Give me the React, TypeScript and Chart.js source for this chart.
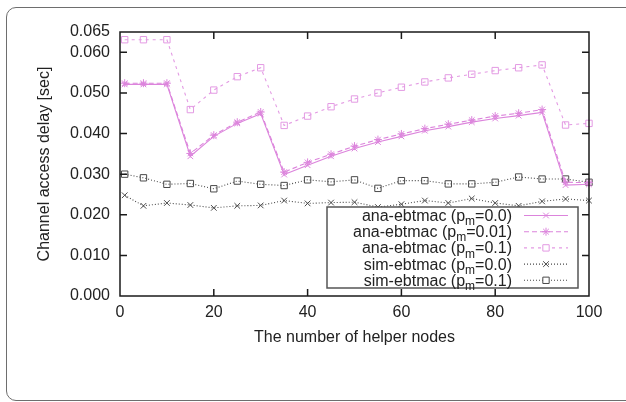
import React, { useEffect, useRef } from "react";
import { Chart, registerables } from "chart.js";

Chart.register(...registerables);

// ---------------- data ----------------
const helperNodes = [1, 5, 10, 15, 20, 25, 30, 35, 40, 45, 50, 55, 60, 65, 70, 75, 80, 85, 90, 95, 100];

const anaPm00 = [0.0521, 0.0521, 0.0521, 0.0344, 0.0393, 0.0425, 0.0449, 0.0299, 0.0322, 0.0344, 0.0363, 0.0379, 0.0393, 0.0407, 0.0417, 0.0428, 0.0437, 0.0444, 0.0452, 0.0273, 0.0275];
const anaPm001 = [0.0524, 0.0524, 0.0524, 0.0351, 0.0396, 0.0428, 0.0453, 0.0305, 0.0329, 0.0349, 0.0369, 0.0385, 0.0399, 0.0412, 0.0423, 0.0433, 0.0443, 0.045, 0.0459, 0.028, 0.0279];
const anaPm01 = [0.0631, 0.0631, 0.0631, 0.0459, 0.0507, 0.054, 0.0562, 0.042, 0.0443, 0.0466, 0.0485, 0.05, 0.0514, 0.0527, 0.0537, 0.0546, 0.0555, 0.0562, 0.0569, 0.0421, 0.0425];
const simPm00 = [0.0248, 0.0222, 0.0229, 0.0224, 0.0217, 0.0222, 0.0223, 0.0235, 0.0228, 0.023, 0.0231, 0.0219, 0.0226, 0.0235, 0.0229, 0.024, 0.0229, 0.0222, 0.0233, 0.0239, 0.0235];
const simPm01 = [0.03, 0.0291, 0.0275, 0.0277, 0.0264, 0.0283, 0.0275, 0.0272, 0.0286, 0.0281, 0.0286, 0.0265, 0.0284, 0.0284, 0.0276, 0.0276, 0.028, 0.0293, 0.0288, 0.0288, 0.028];

const seriesNames = ["ana-ebtmac", "ana-ebtmac", "ana-ebtmac", "sim-ebtmac", "sim-ebtmac"];
const pmValues = ["0.0", "0.01", "0.1", "0.0", "0.1"];

const yTickValues = [0, 0.01, 0.02, 0.03, 0.04, 0.05, 0.06, 0.065];
const xTickValues = [0, 20, 40, 60, 80, 100];

const xTitle = "The number of helper nodes";
const yTitle = "Channel access delay [sec]";

// ---------------- styles ----------------
const FONT = '"Liberation Sans", Arial, Helvetica, sans-serif';
const PINK = "#dc84dc";
const PINK_LIGHT = "#e39ae3";
const GRAY = "#4a4a4a";

const toPoints = (ys: number[]) => ys.map((y, i) => ({ x: helperNodes[i], y }));

function drawMarker(ctx: CanvasRenderingContext2D, style: string, x: number, y: number, r: number, color: string) {
  ctx.save();
  ctx.setLineDash([]);
  ctx.strokeStyle = color;
  ctx.lineWidth = 1;
  ctx.beginPath();
  const d = r * Math.SQRT1_2;
  if (style === "crossRot" || style === "star") {
    ctx.moveTo(x - d, y - d);
    ctx.lineTo(x + d, y + d);
    ctx.moveTo(x - d, y + d);
    ctx.lineTo(x + d, y - d);
  }
  if (style === "star") {
    ctx.moveTo(x - r, y);
    ctx.lineTo(x + r, y);
    ctx.moveTo(x, y - r);
    ctx.lineTo(x, y + r);
  }
  if (style === "rect") {
    ctx.fillStyle = "#fff";
    ctx.rect(x - d, y - d, 2 * d, 2 * d);
    ctx.fill();
  }
  ctx.stroke();
  ctx.restore();
}

const frameAndTicks = {
  id: "frameAndTicks",
  afterDraw(chart: any) {
    const { ctx, chartArea: a, scales } = chart;
    ctx.save();
    ctx.strokeStyle = "#1a1a1a";
    ctx.lineWidth = 1.5;
    ctx.setLineDash([]);
    const tl = 7;
    ctx.beginPath();
    scales.x.ticks.forEach((t: any) => {
      if (t.value <= 0 || t.value >= 100) return;
      const px = scales.x.getPixelForValue(t.value);
      ctx.moveTo(px, a.bottom);
      ctx.lineTo(px, a.bottom - tl);
      ctx.moveTo(px, a.top);
      ctx.lineTo(px, a.top + tl);
    });
    scales.y.ticks.forEach((t: any) => {
      if (t.value <= 0 || t.value >= 0.065) return;
      const py = scales.y.getPixelForValue(t.value);
      ctx.moveTo(a.left, py);
      ctx.lineTo(a.left + tl, py);
      ctx.moveTo(a.right, py);
      ctx.lineTo(a.right - tl, py);
    });
    ctx.stroke();
    ctx.strokeRect(a.left, a.top, a.right - a.left, a.bottom - a.top);
    ctx.restore();
  },
};

const gnuLegend = {
  id: "gnuLegend",
  afterDraw(chart: any) {
    const { ctx, chartArea: a } = chart;
    const boxR = a.right - 11;
    const boxB = a.bottom - 8;
    const boxW = 251;
    const boxH = 81;
    const boxL = boxR - boxW;
    const boxT = boxB - boxH;
    const rowH = 16.2;
    ctx.save();
    ctx.fillStyle = "#fff";
    ctx.fillRect(boxL, boxT, boxW, boxH);
    ctx.strokeStyle = "#555";
    ctx.lineWidth = 1.5;
    ctx.setLineDash([]);
    ctx.strokeRect(boxL, boxT, boxW, boxH);

    chart.data.datasets.forEach((ds: any, i: number) => {
      const cy = boxT + 8.5 + i * rowH;
      const main = `${seriesNames[i]} (p`;
      const sub = "m";
      const tail = `=${pmValues[i]})`;
      ctx.font = `16px ${FONT}`;
      const w1 = ctx.measureText(main).width;
      const w3 = ctx.measureText(tail).width;
      ctx.font = `12px ${FONT}`;
      const w2 = ctx.measureText(sub).width;
      const textRight = boxR - 66;
      const x0 = textRight - (w1 + w2 + w3);
      const base = cy + 5.5;
      ctx.fillStyle = "#222";
      ctx.textBaseline = "alphabetic";
      ctx.textAlign = "left";
      ctx.font = `16px ${FONT}`;
      ctx.fillText(main, x0, base);
      ctx.fillText(tail, x0 + w1 + w2, base);
      ctx.font = `12px ${FONT}`;
      ctx.fillText(sub, x0 + w1, base + 4.2);

      ctx.strokeStyle = ds.borderColor;
      ctx.lineWidth = ds.borderWidth;
      ctx.setLineDash(ds.borderDash || []);
      ctx.beginPath();
      ctx.moveTo(boxR - 54, cy);
      ctx.lineTo(boxR - 10, cy);
      ctx.stroke();
      drawMarker(ctx, ds.pointStyle, boxR - 32, cy, ds.pointRadius, ds.pointBorderColor);
    });
    ctx.restore();
  },
};

export default function App() {
  const ref = useRef<HTMLCanvasElement>(null);

  useEffect(() => {
    const mk = (label: string, data: number[], color: string, dash: number[], style: string, r: number, width: number) => ({
      label,
      data: toPoints(data),
      borderColor: color,
      borderWidth: width,
      borderDash: dash,
      pointStyle: style,
      pointRadius: r,
      pointBorderColor: color,
      pointBorderWidth: 1,
      pointBackgroundColor: style === "rect" ? "rgba(255,255,255,0)" : color,
      fill: false,
      tension: 0,
      clip: 10,
    });

    const datasets = [
      mk(`${seriesNames[0]} (pm=${pmValues[0]})`, anaPm00, PINK, [], "crossRot", 4, 1.1),
      mk(`${seriesNames[1]} (pm=${pmValues[1]})`, anaPm001, PINK, [5, 3], "star", 4, 1.1),
      mk(`${seriesNames[2]} (pm=${pmValues[2]})`, anaPm01, PINK_LIGHT, [3, 4], "rect", 4.5, 1.1),
      mk(`${seriesNames[3]} (pm=${pmValues[3]})`, simPm00, GRAY, [1, 2], "crossRot", 4, 1.1),
      mk(`${seriesNames[4]} (pm=${pmValues[4]})`, simPm01, GRAY, [1, 2], "rect", 4.5, 1.1),
    ];

    const chart = new Chart(ref.current as HTMLCanvasElement, {
      type: "line",
      data: { datasets } as any,
      options: {
        responsive: false,
        animation: false,
        devicePixelRatio: 1,
        layout: { padding: { left: 0, top: 32, right: 37, bottom: 0 } },
        plugins: { legend: { display: false }, tooltip: { enabled: false } },
        scales: {
          x: {
            type: "linear",
            min: 0,
            max: 100,
            afterBuildTicks: (s: any) => {
              s.ticks = xTickValues.map((v) => ({ value: v }));
            },
            afterFit: (s: any) => {
              s.height = 106;
            },
            grid: { display: false, drawTicks: false },
            border: { display: false },
            ticks: {
              padding: 7,
              color: "#222",
              font: { size: 16, family: FONT },
              callback: (v: any) => String(v),
              maxRotation: 0,
            },
            title: {
              display: true,
              text: xTitle,
              color: "#222",
              font: { size: 16, family: FONT },
              padding: { top: 0, bottom: 55 },
            },
          },
          y: {
            type: "linear",
            min: 0,
            max: 0.065,
            afterBuildTicks: (s: any) => {
              s.ticks = yTickValues.map((v) => ({ value: v }));
            },
            afterFit: (s: any) => {
              s.width = 120;
            },
            grid: { display: false, drawTicks: false },
            border: { display: false },
            ticks: {
              padding: 10,
              color: "#222",
              font: { size: 16, family: FONT },
              callback: (v: any) => Number(v).toFixed(3),
              autoSkip: false,
            },
            title: {
              display: true,
              text: yTitle,
              color: "#222",
              font: { size: 16, family: FONT },
              padding: { top: 35, bottom: 0 },
            },
          },
        },
      },
      plugins: [frameAndTicks, gnuLegend],
    } as any);

    return () => chart.destroy();
  }, []);

  return (
    <div style={{ position: "fixed", left: 0, top: 0, width: 626, height: 402, background: "#fff", overflow: "hidden" }}>
      <div
        style={{
          position: "absolute",
          left: 6,
          top: 7,
          width: 660,
          height: 394,
          border: "1.5px solid #6e6e6e",
          borderRadius: 10,
          boxSizing: "border-box",
        }}
      />
      <canvas ref={ref} width={626} height={402} style={{ position: "absolute", left: 0, top: 0, width: 626, height: 402 }} />
    </div>
  );
}
